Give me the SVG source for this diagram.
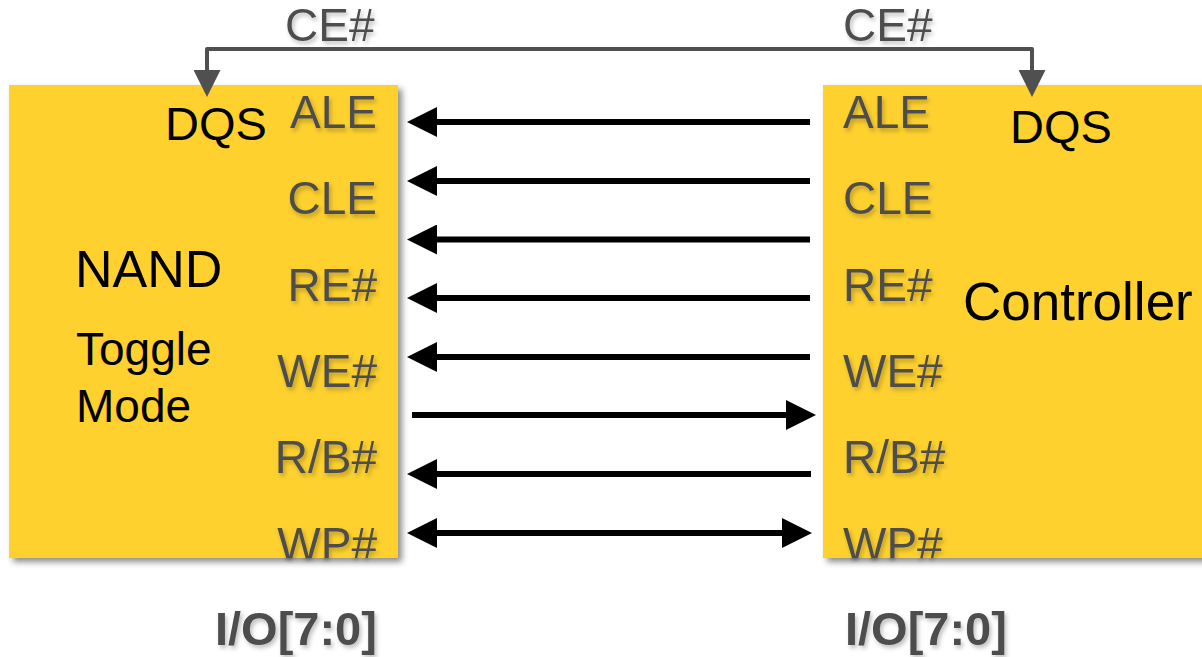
<svg xmlns="http://www.w3.org/2000/svg" width="1202" height="657" viewBox="0 0 1202 657">
  <style>
    .box { fill: #FED12F; filter: url(#boxShadow); }
    .pin { font-family: "Liberation Sans", Arial, sans-serif; font-size: 46px; fill: #4D4D4D; filter: url(#textShadow); }
    .lbl { font-family: "Liberation Sans", Arial, sans-serif; fill: #000; }
    .bus { font-family: "Liberation Sans", Arial, sans-serif; font-size: 47px; font-weight: bold; fill: #4D4D4D; filter: url(#textShadow); }
    .ghost { font-family: "Liberation Sans", Arial, sans-serif; font-size: 46px; fill: #888; filter: url(#blur); }
    .sig { stroke: #000; stroke-width: 6; fill: none; }
    .ce { stroke: #505050; stroke-width: 4; fill: none; stroke-linejoin: round; }
  </style>
  <defs>
    <filter id="boxShadow" x="-5%" y="-5%" width="115%" height="115%">
      <feDropShadow dx="4" dy="4" stdDeviation="3" flood-color="#000" flood-opacity="0.45"/>
    </filter>
    <filter id="textShadow" x="-10%" y="-20%" width="130%" height="150%">
      <feDropShadow dx="2" dy="3" stdDeviation="2" flood-color="#000" flood-opacity="0.25"/>
    </filter>
    <filter id="blur"><feGaussianBlur stdDeviation="2"/></filter>
    <clipPath id="clipLeft"><rect x="9" y="85" width="389" height="473"/></clipPath>
    <clipPath id="clipRight"><rect x="823" y="85" width="379" height="473"/></clipPath>
    <!-- signal arrowhead: base sits on the line end, tip points forward -->
    <marker id="head" markerUnits="userSpaceOnUse" markerWidth="30" markerHeight="30" viewBox="0 0 29 29" refX="0" refY="14.5" orient="auto-start-reverse">
      <polygon points="0,0 29,14.5 0,29" fill="#000"/>
    </marker>
    <marker id="ceHead" markerUnits="userSpaceOnUse" markerWidth="27" markerHeight="27" viewBox="0 0 26 26" refX="0" refY="13" orient="auto-start-reverse">
      <polygon points="0,0 26,13 0,26" fill="#505050"/>
    </marker>
  </defs>

  <!-- soft shadows of the clipped WP# labels below the boxes -->
  <text class="ghost" x="377" y="560" text-anchor="end">WP#</text>
  <text class="ghost" x="843" y="560">WP#</text>

  <!-- NAND device -->
  <g id="nand">
    <rect class="box" x="9" y="85" width="389" height="473"/>
    <text class="lbl" x="165" y="140" font-size="47">DQS</text>
    <text class="lbl" x="75" y="287" font-size="52">NAND</text>
    <text class="lbl" x="76" y="365" font-size="46">Toggle</text>
    <text class="lbl" x="76" y="422" font-size="46">Mode</text>
    <g text-anchor="end">
      <text class="pin" x="377" y="128">ALE</text>
      <text class="pin" x="377" y="214">CLE</text>
      <text class="pin" x="377" y="301">RE#</text>
      <text class="pin" x="377" y="387">WE#</text>
      <text class="pin" x="377" y="473">R/B#</text>
      <g clip-path="url(#clipLeft)"><text class="pin" x="377" y="560">WP#</text></g>
    </g>
  </g>

  <!-- Controller -->
  <g id="controller">
    <rect class="box" x="823" y="85" width="390" height="473"/>
    <text class="lbl" x="1010" y="143" font-size="47">DQS</text>
    <text class="lbl" x="963" y="320" font-size="53">Controller</text>
    <text class="pin" x="843" y="128">ALE</text>
    <text class="pin" x="843" y="214">CLE</text>
    <text class="pin" x="843" y="301">RE#</text>
    <text class="pin" x="843" y="387">WE#</text>
    <text class="pin" x="843" y="473">R/B#</text>
    <g clip-path="url(#clipRight)"><text class="pin" x="843" y="560">WP#</text></g>
  </g>

  <!-- connectors -->
  <g id="connectors">
    <path class="ce" d="M207 70 V49 H1032 V70" marker-start="url(#ceHead)" marker-end="url(#ceHead)"/>
    <line class="sig" x1="810" y1="122" x2="437" y2="122" marker-end="url(#head)"/>
    <line class="sig" x1="810" y1="181" x2="437" y2="181" marker-end="url(#head)"/>
    <line class="sig" x1="810" y1="239.5" x2="437" y2="239.5" marker-end="url(#head)"/>
    <line class="sig" x1="810" y1="298" x2="437" y2="298" marker-end="url(#head)"/>
    <line class="sig" x1="810" y1="357" x2="437" y2="357" marker-end="url(#head)"/>
    <line class="sig" x1="412" y1="415" x2="786" y2="415" marker-end="url(#head)"/>
    <line class="sig" x1="811" y1="474" x2="437" y2="474" marker-end="url(#head)"/>
    <line class="sig" x1="437" y1="533" x2="782" y2="533" marker-start="url(#head)" marker-end="url(#head)"/>
  </g>

  <!-- CE# and bus labels -->
  <g id="ce-labels">
    <text class="pin" x="285" y="41">CE#</text>
    <text class="pin" x="843" y="41">CE#</text>
  </g>
  <g id="bus-labels">
    <text class="bus" x="215" y="645">I/O[7:0]</text>
    <text class="bus" x="845" y="645">I/O[7:0]</text>
  </g>
</svg>
